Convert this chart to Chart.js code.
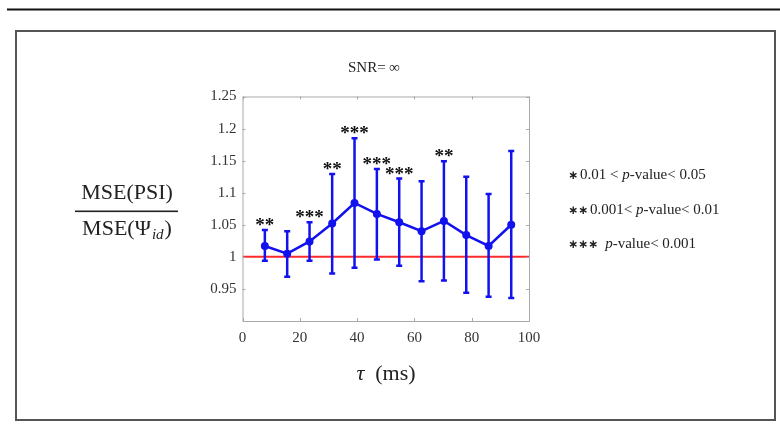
<!DOCTYPE html>
<html>
<head>
<meta charset="utf-8">
<script src="https://cdn.jsdelivr.net/npm/chart.js@4"></script>
<style>
  html, body { margin: 0; padding: 0; background: #fff; }
  canvas { display: block; }
</style>
</head>
<body>
<canvas id="myChart" width="780" height="428"></canvas>
<script>
// tau lags (ms) and the MSE ratio with its error bars
var tauMs = [7.8, 15.6, 23.4, 31.3, 39.1, 46.9, 54.7, 62.5, 70.3, 78.1, 85.9, 93.8]
var msRatio = [1.017, 1.005, 1.024, 1.052, 1.084, 1.067, 1.054, 1.040, 1.056, 1.034, 1.017, 1.050]
var errUpper = [1.042, 1.040, 1.054, 1.129, 1.185, 1.137, 1.122, 1.118, 1.149, 1.125, 1.098, 1.165]
var errLower = [0.994, 0.969, 0.994, 0.974, 0.983, 0.996, 0.986, 0.962, 0.963, 0.944, 0.938, 0.936]
var stars = ['**', '', '***', '**', '***', '***', '***', '', '**', '', '', '']
var refLevel = 1

var xTicks = [0, 20, 40, 60, 80, 100]
var xTickLabels = ['0', '20', '40', '60', '80', '100']
var yTicks = [0.95, 1, 1.05, 1.1, 1.15, 1.2, 1.25]
var yTickLabels = ['0.95', '1', '1.05', '1.1', '1.15', '1.2', '1.25']

var titleText = 'SNR= \u221E'
var legendRows = [
    ['\u2217', '0.01 < ', 'p', '-value< 0.05'],
    ['\u2217\u2217', '0.001< ', 'p', '-value< 0.01'],
    ['\u2217\u2217\u2217', '', 'p', '-value< 0.001']
]

const SERIF = '"Liberation Serif", "DejaVu Serif", serif'
const BLUE = '#1212ee'

var points = []
for (let i = 0; i < tauMs.length; i++){
    points.push({x: tauMs[i], y: msRatio[i]})
}
var refLine = [{x: xTicks[0], y: refLevel}, {x: xTicks[xTicks.length-1], y: refLevel}]

const errorBars = {
    id: 'errorBars',
    afterDatasetsDraw: chart => {
        let ctx = chart.ctx
        let xs = chart.scales.x
        let ys = chart.scales.y
        ctx.save()
        ctx.strokeStyle = BLUE
        ctx.lineWidth = 2.5
        for (let i = 0; i < tauMs.length; i++){
            let x = xs.getPixelForValue(tauMs[i])
            let yt = ys.getPixelForValue(errUpper[i])
            let yb = ys.getPixelForValue(errLower[i])
            ctx.beginPath()
            ctx.moveTo(x, yt); ctx.lineTo(x, yb)
            ctx.moveTo(x - 3, yt); ctx.lineTo(x + 3, yt)
            ctx.moveTo(x - 3, yb); ctx.lineTo(x + 3, yb)
            ctx.stroke()
            if (stars[i]){
                ctx.fillStyle = '#111'
                ctx.font = 'bold 19px ' + SERIF
                ctx.textAlign = 'center'
                ctx.textBaseline = 'alphabetic'
                ctx.fillText(stars[i], x, yt + 1)
            }
        }
        ctx.restore()
    }
}

const decorations = {
    id: 'decorations',
    afterDraw: chart => {
        let ctx = chart.ctx
        let a = chart.chartArea
        let xs = chart.scales.x
        let ys = chart.scales.y
        ctx.save()
        // page rule and figure frame
        ctx.strokeStyle = '#111'
        ctx.lineWidth = 2
        ctx.beginPath(); ctx.moveTo(7, 9.5); ctx.lineTo(780, 9.5); ctx.stroke()
        ctx.strokeStyle = '#555'
        ctx.strokeRect(16, 31, 759, 389)

        // axes box with inward ticks
        ctx.strokeStyle = '#aaa'
        ctx.lineWidth = 1
        ctx.strokeRect(a.left + 0.5, a.top + 0.5, a.right - a.left, a.bottom - a.top)
        ctx.beginPath()
        for (let v of xTicks){
            let x = Math.round(xs.getPixelForValue(v)) + 0.5
            ctx.moveTo(x, a.bottom); ctx.lineTo(x, a.bottom - 3)
            ctx.moveTo(x, a.top); ctx.lineTo(x, a.top + 3)
        }
        for (let v of yTicks){
            let y = Math.round(ys.getPixelForValue(v)) + 0.5
            ctx.moveTo(a.left, y); ctx.lineTo(a.left + 3, y)
            ctx.moveTo(a.right, y); ctx.lineTo(a.right - 3, y)
        }
        ctx.stroke()

        ctx.fillStyle = '#222'
        ctx.textBaseline = 'middle'
        // title
        ctx.textAlign = 'center'
        ctx.font = '15px ' + SERIF
        ctx.fillText(titleText, 374, 68)

        // x label
        ctx.font = 'italic 22px ' + SERIF
        ctx.textAlign = 'left'
        let w1 = ctx.measureText('\u03C4').width
        ctx.font = '22px ' + SERIF
        let w2 = ctx.measureText('  (ms)').width
        let sx = 386 - (w1 + w2) / 2
        ctx.font = 'italic 22px ' + SERIF
        ctx.fillText('\u03C4', sx, 374)
        ctx.font = '22px ' + SERIF
        ctx.fillText('  (ms)', sx + w1, 374)

        // y label as a fraction
        ctx.textBaseline = 'alphabetic'
        ctx.textAlign = 'center'
        ctx.font = '22px ' + SERIF
        ctx.fillText('MSE(PSI)', 127, 199)
        ctx.fillRect(75, 210.5, 103, 1.6)
        ctx.textAlign = 'left'
        let d1 = 'MSE(\u03A8'
        let dw1 = ctx.measureText(d1).width
        ctx.font = 'italic 15px ' + SERIF
        let dw2 = ctx.measureText('id').width + 2
        ctx.font = '22px ' + SERIF
        let dw3 = ctx.measureText(')').width
        let dx = 127 - (dw1 + dw2 + dw3) / 2
        ctx.fillText(d1, dx, 235)
        ctx.font = 'italic 15px ' + SERIF
        ctx.fillText('id', dx + dw1 + 1, 239)
        ctx.font = '22px ' + SERIF
        ctx.fillText(')', dx + dw1 + dw2, 235)

        // significance legend
        let rowY = [175, 210, 244]
        ctx.textBaseline = 'middle'
        for (let r = 0; r < legendRows.length; r++){
            let row = legendRows[r]
            let x = 568
            ctx.font = 'bold 12px "DejaVu Sans", sans-serif'
            ctx.fillText(row[0], x, rowY[r] + 1)
            x += ctx.measureText(row[0]).width + 2
            if (r === 2){ x += 5 }
            ctx.font = '15px ' + SERIF
            ctx.fillText(row[1], x, rowY[r])
            x += ctx.measureText(row[1]).width
            ctx.font = 'italic 15px ' + SERIF
            ctx.fillText(row[2], x, rowY[r])
            x += ctx.measureText(row[2]).width
            ctx.font = '15px ' + SERIF
            ctx.fillText(row[3], x, rowY[r])
        }
        ctx.restore()
    }
}

const ctx = document.getElementById('myChart')
new Chart(ctx, {
    type: 'line',
    data: {
        datasets: [{
            data: refLine,
            borderColor: '#ff2a2a',
            borderWidth: 2,
            pointRadius: 0,
            fill: false,
            order: 2
        }, {
            data: points,
            borderColor: BLUE,
            backgroundColor: BLUE,
            borderWidth: 2.5,
            pointRadius: 4,
            pointBorderWidth: 0,
            pointBackgroundColor: BLUE,
            tension: 0,
            fill: false,
            order: 1
        }]
    },
    options: {
        responsive: false,
        animation: false,
        devicePixelRatio: 1,
        layout: {
            padding: {left: 197.5, right: 251, top: 96.5, bottom: 77}
        },
        scales: {
            x: {
                type: 'linear',
                min: 0,
                max: 100,
                afterBuildTicks: s => { s.ticks = xTicks.map(v => ({value: v})) },
                afterFit: s => { s.height = 30 },
                grid: {display: false, drawTicks: false},
                border: {display: false},
                ticks: {
                    color: '#333',
                    padding: 8,
                    maxRotation: 0,
                    font: {family: SERIF, size: 15},
                    callback: (v) => xTickLabels[xTicks.indexOf(v)]
                }
            },
            y: {
                min: 0.9,
                max: 1.25,
                afterBuildTicks: s => { s.ticks = yTicks.map(v => ({value: v})) },
                afterFit: s => { s.width = 45 },
                grid: {display: false, drawTicks: false},
                border: {display: false},
                ticks: {
                    color: '#333',
                    padding: 6,
                    font: {family: SERIF, size: 15},
                    callback: (v) => {
                        for (let k = 0; k < yTicks.length; k++){
                            if (Math.abs(yTicks[k] - v) < 1e-6){ return yTickLabels[k] }
                        }
                        return ''
                    }
                }
            }
        },
        plugins: {
            legend: {display: false},
            tooltip: {enabled: false}
        }
    },
    plugins: [errorBars, decorations]
})
</script>
</body>
</html>
